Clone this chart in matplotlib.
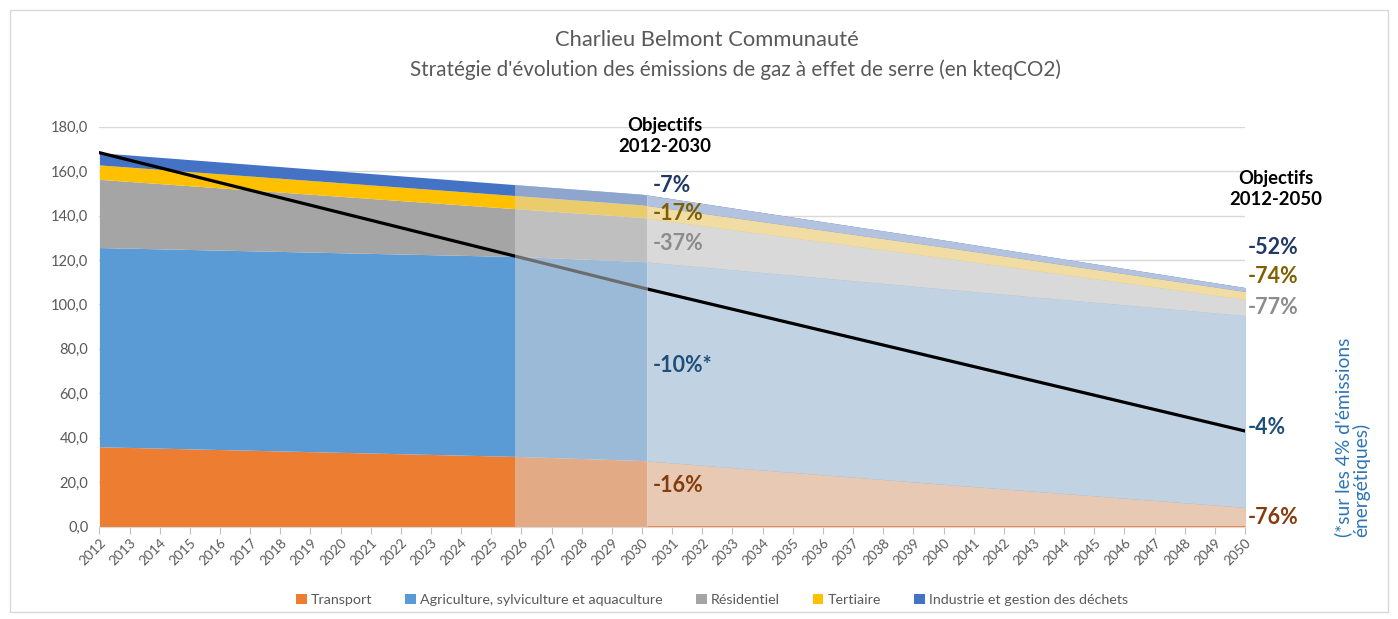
import numpy as np
import matplotlib
matplotlib.use("Agg")
import matplotlib.pyplot as plt
from matplotlib.patches import Rectangle, Patch

plt.rcParams['font.family'] = ['Lato', 'DejaVu Sans']

# ---------------- data ----------------
years = [2012, 2026, 2030, 2040, 2050]
transport = [35.9, 31.5, 29.7, 19.0, 8.6]
agriculture = [89.7, 90.0, 89.6, 88.0, 86.4]
residentiel = [30.7, 21.4, 19.8, 14.0, 7.3]
tertiaire = [6.5, 5.9, 5.7, 4.8, 3.5]
industrie = [5.5, 4.9, 4.8, 3.2, 1.8]

series_names = ["Transport", "Agriculture, sylviculture et aquaculture",
                "Résidentiel", "Tertiaire", "Industrie et gestion des déchets"]
series_values = [transport, agriculture, residentiel, tertiaire, industrie]

line_years = [2012, 2030, 2050]
line_values = [168.3, 107.5, 43.0]

tick_years = list(range(2012, 2051))
y_ticks = [0, 20, 40, 60, 80, 100, 120, 140, 160, 180]

solid_colors = ["#ED7D31", "#5B9BD5", "#A5A5A5", "#FFC000", "#4472C4"]
light_colors = ["#E8C9B3", "#C1D2E3", "#D9D9D9", "#F1DDA3", "#B2C2DF"]

# ---------------- figure ----------------
W, H = 1398, 619
fig = plt.figure(figsize=(W / 100, H / 100), dpi=100)
fig.patch.set_facecolor("white")

def fx(px):
    return px / W

def fy(py):
    return 1 - py / H

ax = fig.add_axes([fx(99.4), fy(526.5), fx(1245) - fx(99.4), fy(126.7) - fy(526.5)])
ax.set_xlim(2012, 2050)
ax.set_ylim(0, 180)

yrs = np.array(years, dtype=float)
vals = np.array(series_values, dtype=float)
tops = np.cumsum(vals, axis=0)
bottoms = np.vstack([np.zeros(len(years)), tops[:-1]])

zoneA = (2025.8, 2030.15)
zoneB = (2030.15, 2050)

# solid stacked areas
for i in range(len(series_names)):
    ax.fill_between(yrs, bottoms[i], tops[i], color=solid_colors[i], lw=0, zorder=2)

# lighter areas for 2030-2050
clipB = Rectangle((zoneB[0], 0), zoneB[1] - zoneB[0], 200, transform=ax.transData)
for i in range(len(series_names)):
    p = ax.fill_between(yrs, bottoms[i], tops[i], color=light_colors[i], lw=0, zorder=3)
    p.set_clip_path(clipB)
ax.plot([zoneB[0], zoneB[1]], [0, 0], color="#ED7D31", lw=1.2, zorder=3.2)

# objective line
ax.plot(line_years, line_values, color="black", lw=2.3, zorder=4)

# overlay for 2026-2030
clipA = Rectangle((zoneA[0], 0), zoneA[1] - zoneA[0], 200, transform=ax.transData)
p = ax.fill_between(yrs, 0, tops[-1], color="#D9D9D9", alpha=0.5, lw=0, zorder=5)
p.set_clip_path(clipA)

# axes styling
ax.set_yticks(y_ticks)
ax.set_yticklabels([f"{v:.1f}".replace(".", ",") for v in y_ticks])
ax.set_xticks(tick_years)
ax.set_xticklabels([str(y) for y in tick_years], rotation=45, ha="right",
                   rotation_mode="anchor")
ax.tick_params(axis="y", length=0, labelsize=10.5, labelcolor="#595959", pad=8)
ax.tick_params(axis="x", length=5, color="#BFBFBF", labelsize=9.8,
               labelcolor="#595959", pad=2)
ax.grid(axis="y", color="#D9D9D9", lw=1, zorder=0)
ax.set_axisbelow(True)
for s in ["top", "right", "left"]:
    ax.spines[s].set_visible(False)
ax.spines["bottom"].set_color("#D9D9D9")
ax.set_facecolor("none")

# title
fig.text(fx(707), fy(40), "Charlieu Belmont Communauté", ha="center", va="center",
         fontsize=15.8, color="#595959")
fig.text(fx(735), fy(70), "Stratégie d'évolution des émissions de gaz à effet de serre (en kteqCO2)",
         ha="center", va="center", fontsize=14.9, color="#595959")

# objectives headers
fig.text(fx(665), fy(136), "Objectifs\n2012-2030", ha="center", va="center",
         fontsize=13.3, fontweight="bold", color="black", linespacing=1.25)
fig.text(fx(1276), fy(189), "Objectifs\n2012-2050", ha="center", va="center",
         fontsize=13.3, fontweight="bold", color="black", linespacing=1.25)

labels = [
    (653, 185, "-7%", "#203864"),
    (653, 214, "-17%", "#7F6000"),
    (653, 244, "-37%", "#8C8C8C"),
    (653, 365, "-10%*", "#1F4E79"),
    (653, 486, "-16%", "#843C0C"),
    (1248, 247, "-52%", "#203864"),
    (1248, 277, "-74%", "#7F6000"),
    (1248, 307, "-77%", "#8C8C8C"),
    (1248, 427, "-4%", "#1F4E79"),
    (1248, 518, "-76%", "#843C0C"),
]
for x, y, t, c in labels:
    fig.text(fx(x), fy(y), t, ha="left", va="center", fontsize=15.5,
             fontweight="bold", color=c, zorder=10)

fig.text(fx(1352), fy(537), "(*sur les 4% d'émissions\nénergétiques)", rotation=90,
         ha="center", va="bottom", multialignment="left", fontsize=13.8,
         color="#2E75B6", linespacing=1.0)

# legend
handles = [Patch(facecolor=c, edgecolor="none") for c in solid_colors]
fig.legend(handles, series_names, loc="center", bbox_to_anchor=(fx(712), fy(600)),
           ncol=5, frameon=False, fontsize=10.3, handlelength=0.75, handleheight=0.75,
           handletextpad=0.3, columnspacing=2.3, labelcolor="#595959")

# chart border
fig.patches.append(Rectangle((fx(10), fy(612)), fx(1388) - fx(10), fy(10) - fy(612),
                             transform=fig.transFigure, fill=False,
                             edgecolor="#D9D9D9", lw=1))

fig.savefig("out.png", dpi=100)
